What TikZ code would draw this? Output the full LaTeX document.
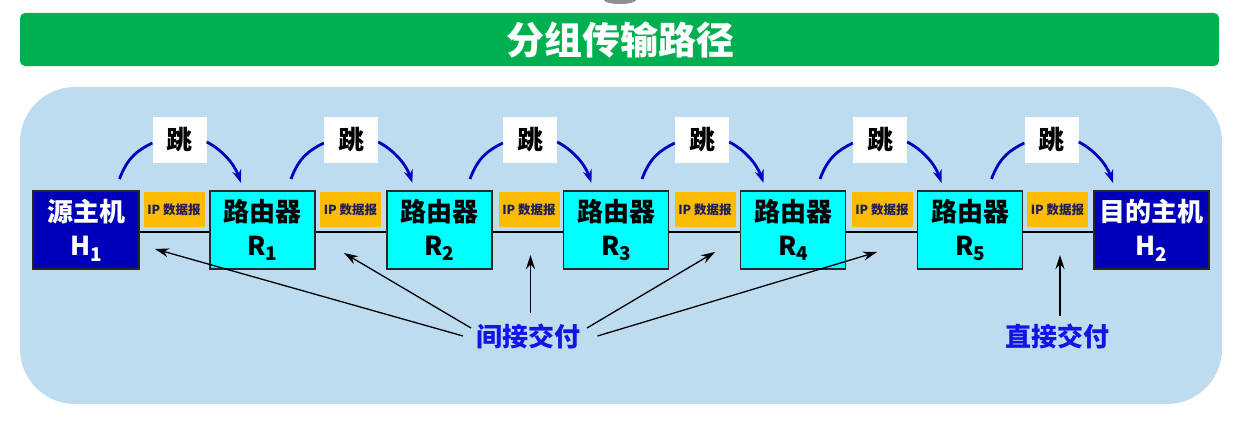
\documentclass[tikz,border=0pt]{standalone}
\usepackage{fontspec}
\setmainfont{Noto Sans CJK SC}
\usetikzlibrary{arrows.meta,calc}

\definecolor{barGreen}{RGB}{0,176,80}
\definecolor{panelBlue}{RGB}{190,220,240}
\definecolor{hostBlue}{RGB}{0,0,185}
\definecolor{routerCyan}{RGB}{0,255,255}
\definecolor{pktOrange}{RGB}{250,187,0}
\definecolor{pktText}{RGB}{30,30,90}
\definecolor{hopBlue}{RGB}{0,0,190}
\definecolor{delivBlue}{RGB}{20,20,230}
\definecolor{frameGray}{RGB}{40,40,40}

\newcommand\fsz[2]{\fontsize{#1}{#2}\selectfont}
\newcommand\idx[1]{\raisebox{-0.22em}{\fsz{19}{19}#1}}

\tikzset{
  devbox/.style={draw=frameGray, line width=1.5pt, minimum height=78pt,
    inner sep=0pt, align=center, font=\fsz{26}{34}\bfseries},
  hostbox/.style={devbox, fill=hostBlue, text=white},
  routerbox/.style={devbox, fill=routerCyan, text=black, minimum width=105pt},
  pktbox/.style={fill=pktOrange, minimum width=61pt, minimum height=35pt,
    inner sep=0pt, text=pktText, font=\fsz{12.5}{12.5}\bfseries},
  hoplabel/.style={fill=white, minimum width=54pt, minimum height=46pt,
    inner sep=0pt, font=\fsz{26}{26}\bfseries},
  hopline/.style={draw=hopBlue, line width=2.8pt},
  hoparrow/.style={hopline, -{Stealth[length=13pt,width=9pt]}},
  wire/.style={draw=black, line width=2.2pt},
  deliver/.style={text=delivBlue, font=\fsz{26}{26}\bfseries, inner sep=0pt},
  pointer/.style={draw=black, line width=1.3pt, -{Stealth[length=14pt,width=9pt]}}
}

\begin{document}
\begin{tikzpicture}[x=1pt,y=-1pt]
  \useasboundingbox (0,0) rectangle (1238,420);
  \fill[white] (0,0) rectangle (1238,420);

  % small grey blob at the top edge
  \fill[black!55, opacity=0.8] (620,0) ellipse [x radius=16, y radius=4];

  % title bar
  \fill[barGreen, rounded corners=5pt] (20,13) rectangle (1219,66);
  \node[text=white, font=\fsz{38}{38}\bfseries] (title) at (620,40) {分组传输路径};

  % background panel
  \fill[panelBlue, rounded corners=55pt] (20,87) rectangle (1222,404);

  % hosts and routers
  \node[hostbox, minimum width=106pt] (H1) at (86,230) {源主机\\H\idx{1}};
  \node[routerbox] (R1) at (262.5,230) {路由器\\R\idx{1}};
  \node[routerbox] (R2) at (439.5,230) {路由器\\R\idx{2}};
  \node[routerbox] (R3) at (616,230) {路由器\\R\idx{3}};
  \node[routerbox] (R4) at (793,230) {路由器\\R\idx{4}};
  \node[routerbox] (R5) at (970,230) {路由器\\R\idx{5}};
  \node[hostbox, minimum width=115pt] (H2) at (1151.5,230) {目的主机\\H\idx{2}};

  % links between neighbours
  \foreach \a/\b in {H1/R1,R1/R2,R2/R3,R3/R4,R4/R5,R5/H2}
    \draw[wire] ([yshift=-2pt]\a.east) -- ([yshift=-2pt]\b.west);

  % datagrams on each link
  \foreach \n/\x in {1/174,2/350.5,3/529,4/705,5/882,6/1057.5}
    \node[pktbox] (ip\n) at (\x,209.5) {IP 数据报};

  % hop arcs
  \foreach \n/\x in {1/179.5,2/351,3/530,4/702,5/880,6/1051.5}{
    \node[hoplabel] (hop\n) at (\x,140) {跳};
    \draw[hopline] ($(hop\n.center)+(-60,39)$) .. controls +(8,-22) and +(-14,7) .. ($(hop\n.west)+(0,3)$);
    \draw[hoparrow] ($(hop\n.east)+(0,2)$) .. controls +(14,7) and +(-7,-20) .. ($(hop\n.center)+(61.5,43)$);
  }

  % delivery labels
  \node[deliver] (ind) at (528,336.5) {间接交付};
  \node[deliver] (dir) at (1057,336.5) {直接交付};

  \coordinate (t1) at (155,249);
  \coordinate (t2) at (344,253);
  \coordinate (t3) at (530.5,255);
  \coordinate (t4) at (715,252);
  \coordinate (t5) at (877,252);
  \coordinate (t6) at (1060,255);

  \draw[pointer] ($(ind.center)+(-65,-0.5)$) -- (t1);
  \draw[pointer] ($(ind.center)+(-57,-8.5)$) -- (t2);
  \draw[pointer] ($(ind.center)+(2.5,-23.5)$) -- (t3);
  \draw[pointer] ($(ind.center)+(59,-8.5)$) -- (t4);
  \draw[pointer] ($(ind.center)+(69.5,-0.5)$) -- (t5);
  \draw[pointer] ($(dir.center)+(3,-20.5)$) -- (t6);
\end{tikzpicture}
\end{document}
